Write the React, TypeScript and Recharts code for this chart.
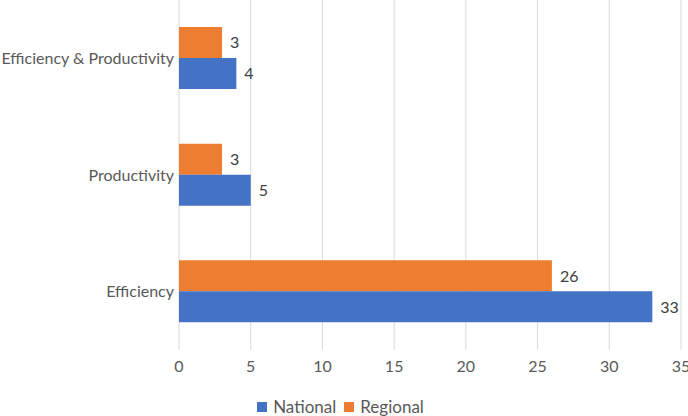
import React from "react";
import { BarChart, Bar, XAxis, YAxis, CartesianGrid, Legend, LabelList } from "recharts";

const categories = ["Efficiency & Productivity", "Productivity", "Efficiency"];
const nationalValues = [4, 5, 33];
const regionalValues = [3, 3, 26];
const xTicks = [0, 5, 10, 15, 20, 25, 30, 35];

const data = categories.map((c, i) => ({
  name: c,
  National: nationalValues[i],
  Regional: regionalValues[i],
}));

const FONT = "Lato, 'Open Sans', sans-serif";
const BLUE = "#4472C4";
const ORANGE = "#ED7D31";

const LegendContent = () => (
  <div
    style={{
      display: "flex",
      justifyContent: "center",
      alignItems: "center",
      paddingTop: 16,
      paddingLeft: 8,
      fontFamily: FONT,
      fontSize: 17,
      color: "#595959",
    }}
  >
    {[
      { label: "National", color: BLUE },
      { label: "Regional", color: ORANGE },
    ].map((it) => (
      <div key={it.label} style={{ display: "flex", alignItems: "center", marginRight: 8 }}>
        <span style={{ width: 10, height: 10, background: it.color, display: "inline-block", marginRight: 6 }} />
        <span>{it.label}</span>
      </div>
    ))}
  </div>
);

export default function App() {
  return (
    <div style={{ position: "absolute", left: 0, top: 0, width: 688, height: 416, background: "#fff" }}>
      <BarChart
        width={688}
        height={416}
        data={data}
        layout="vertical"
        margin={{ top: 0, right: 7, bottom: 0, left: 0 }}
        barGap={0}
        barSize={31}
      >
        <CartesianGrid horizontal={false} vertical={true} stroke="#d9d9d9" />
        <XAxis
          type="number"
          domain={[0, 35]}
          ticks={xTicks}
          axisLine={false}
          tickLine={false}
          height={30}
          tickMargin={5}
          tick={{ fill: "#595959", fontSize: 16, fontFamily: FONT }}
          interval={0}
        />
        <YAxis
          type="category"
          dataKey="name"
          width={179}
          axisLine={false}
          tickLine={false}
          tickSize={0}
          tickMargin={5}
          tick={{ fill: "#595959", fontSize: 16, fontFamily: FONT }}
        />
        <Legend verticalAlign="bottom" height={36} content={<LegendContent />} />
        <Bar dataKey="Regional" fill={ORANGE} isAnimationActive={false}>
          <LabelList dataKey="Regional" position="right" offset={8} fill="#404040" fontSize={16} fontFamily={FONT} />
        </Bar>
        <Bar dataKey="National" fill={BLUE} isAnimationActive={false}>
          <LabelList dataKey="National" position="right" offset={8} fill="#404040" fontSize={16} fontFamily={FONT} />
        </Bar>
      </BarChart>
    </div>
  );
}
